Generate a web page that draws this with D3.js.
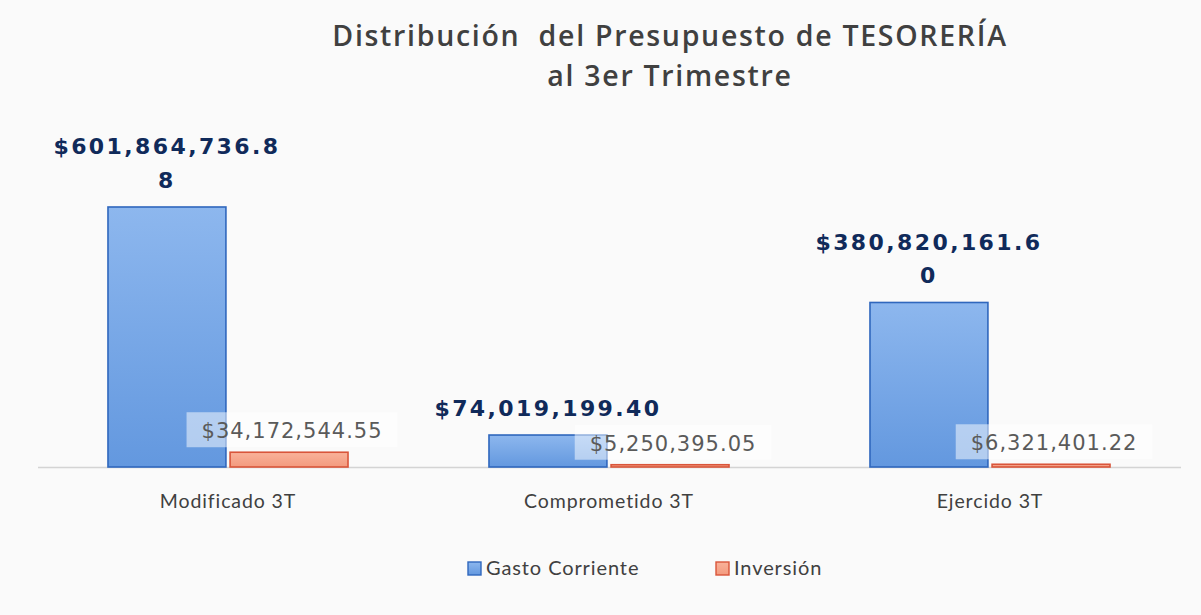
<!DOCTYPE html>
<html>
<head>
<meta charset="utf-8">
<script src="https://cdn.jsdelivr.net/npm/d3@7"></script>
<style>
  html, body { margin: 0; padding: 0; background: #fafafa; }
  svg { display: block; }
</style>
</head>
<body>
<svg id="chart" width="1201" height="615"></svg>
<script>
// ---- data ----
const categories = ["Modificado 3T", "Comprometido 3T", "Ejercido 3T"];
const seriesNames = ["Gasto Corriente", "Inversión"];
const gastoCorriente = [601864736.88, 74019199.40, 380820161.60];
const inversion = [34172544.55, 5250395.05, 6321401.22];
const titleLines = ["Distribución  del Presupuesto de TESORERÍA", "al 3er Trimestre"];

// ---- setup ----
const svg = d3.select("#chart");
const W = 1201, H = 615;
const baseY = 467;

svg.append("rect").attr("width", W).attr("height", H).attr("fill", "#fafafa");

const defs = svg.append("defs");
const gB = defs.append("linearGradient").attr("id", "gBlue").attr("x1", 0).attr("y1", 0).attr("x2", 0).attr("y2", 1);
gB.append("stop").attr("offset", "0%").attr("stop-color", "#8db7ee");
gB.append("stop").attr("offset", "100%").attr("stop-color", "#6398df");
const gO = defs.append("linearGradient").attr("id", "gOrange").attr("x1", 0).attr("y1", 0).attr("x2", 0).attr("y2", 1);
gO.append("stop").attr("offset", "0%").attr("stop-color", "#f9b29a");
gO.append("stop").attr("offset", "100%").attr("stop-color", "#f39a7e");

const x = d3.scaleBand().domain(categories).range([37.5, 1180.5]).paddingInner(0.37).paddingOuter(0.185);
const xs = d3.scaleBand().domain(seriesNames).range([0, x.bandwidth()]).paddingInner(0.034);
const y = d3.scaleLinear().domain([0, 700e6]).range([baseY, 164.6]);

const fmt = d3.format("$,.2f");

// title
svg.append("g").selectAll("text").data(titleLines).join("text")
  .attr("x", 670).attr("y", (d, i) => 46 + i * 40)
  .attr("text-anchor", "middle")
  .style("white-space", "pre")
  .attr("font-family", "'Open Sans', Lato, sans-serif")
  .attr("font-weight", 600)
  .attr("font-size", 28.5)
  .attr("letter-spacing", 1.7)
  .attr("fill", "#404040")
  .text(d => d);

// baseline axis
const xAxis = d3.axisBottom(x).tickSize(0).tickPadding(0);
const axG = svg.append("g").attr("transform", `translate(0,${baseY})`).call(xAxis);
axG.select(".domain").attr("stroke", "#d4d4d4").attr("stroke-width", 1.3);
axG.selectAll(".tick text")
  .attr("dy", 0).attr("y", 41)
  .attr("font-family", "Lato, sans-serif").attr("font-size", 19.5)
  .attr("letter-spacing", 0.9)
  .attr("fill", "#404040");

const data = categories.map((c, i) => ({ cat: c, values: [
  { s: seriesNames[0], v: gastoCorriente[i] },
  { s: seriesNames[1], v: inversion[i] }
]}));

const groups = svg.append("g").selectAll("g").data(data).join("g")
  .attr("transform", d => `translate(${x(d.cat)},0)`);

// bars
groups.selectAll("rect.bar").data(d => d.values).join("rect")
  .attr("class", "bar")
  .attr("x", d => xs(d.s))
  .attr("y", d => y(d.v))
  .attr("width", xs.bandwidth())
  .attr("height", d => baseY - y(d.v))
  .attr("fill", d => d.s === seriesNames[0] ? "url(#gBlue)" : "url(#gOrange)")
  .attr("stroke", d => d.s === seriesNames[0] ? "#2f67bd" : "#d9553a")
  .attr("stroke-width", 1.6);

// Gasto Corriente labels (bold, wrapped)
const maxChars = 14;
groups.each(function(d) {
  const g = d3.select(this);
  const v = d.values[0].v;
  const s = fmt(v);
  const lines = [];
  for (let i = 0; i < s.length; i += maxChars) lines.push(s.slice(i, i + maxChars));
  const cx = xs(seriesNames[0]) + xs.bandwidth() / 2;
  const lastBase = y(v) - 19;
  const t = g.append("text")
    .attr("text-anchor", "middle")
    .attr("font-family", "'DejaVu Sans', Verdana, sans-serif")
    .attr("font-weight", 700)
    .attr("font-size", 22)
    .attr("letter-spacing", 2.4)
    .attr("fill", "#102a5a");
  lines.forEach((ln, i) => {
    t.append("tspan").attr("x", cx)
      .attr("y", lastBase - (lines.length - 1 - i) * 33.5)
      .text(ln);
  });
});

// Inversión labels (regular gray with translucent box)
groups.each(function(d) {
  const g = d3.select(this);
  const v = d.values[1].v;
  const cx = xs(seriesNames[1]) + xs.bandwidth() / 2 + 3;
  const base = y(v) - 14;
  const box = g.append("rect");
  const t = g.append("text")
    .attr("x", cx).attr("y", base)
    .attr("text-anchor", "middle")
    .attr("font-family", "'DejaVu Sans', Verdana, sans-serif")
    .attr("font-size", 21)
    .attr("letter-spacing", 1.0)
    .attr("fill", "#5a5a5a")
    .text(fmt(v));
  const w = t.node().getComputedTextLength();
  box.attr("x", cx - w / 2 - 15).attr("y", base - 26)
    .attr("width", w + 30).attr("height", 35)
    .attr("fill", "#ffffff").attr("fill-opacity", 0.5);
});

// legend
const legX = [468, 716];
const leg = svg.append("g").selectAll("g").data(seriesNames).join("g")
  .attr("transform", (d, i) => `translate(${legX[i]},562)`);
leg.append("rect").attr("width", 13).attr("height", 13)
  .attr("fill", (d, i) => i === 0 ? "url(#gBlue)" : "url(#gOrange)")
  .attr("stroke", (d, i) => i === 0 ? "#2f67bd" : "#d9553a")
  .attr("stroke-width", 1.4);
leg.append("text").attr("x", 18).attr("y", 12.5)
  .attr("font-family", "Lato, sans-serif").attr("font-size", 20)
  .attr("letter-spacing", 0.9)
  .attr("fill", "#404040")
  .text(d => d);
</script>
</body>
</html>
